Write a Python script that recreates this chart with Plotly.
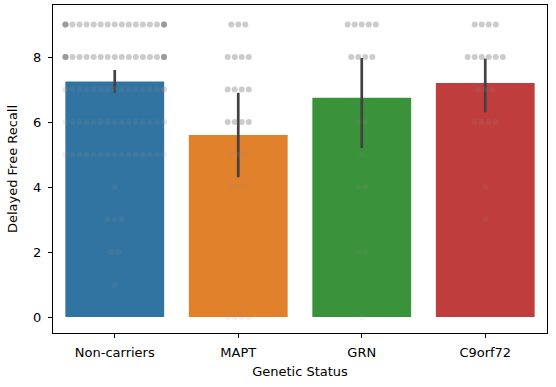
import numpy as np
import plotly.graph_objects as go

# ---- data ----
categories = ["Non-carriers", "MAPT", "GRN", "C9orf72"]
mean_recall = [7.25, 5.6, 6.75, 7.2]
ci_low = [6.9, 4.3, 5.2, 6.3]
ci_high = [7.6, 6.9, 7.97, 7.95]

scores = [0, 1, 2, 3, 4, 5, 6, 7, 8, 9]
noncarrier_counts = [0, 1, 2, 3, 1, 15, 16, 18, 19, 19]
mapt_counts = [4, 0, 0, 0, 3, 3, 4, 4, 4, 3]
grn_counts = [1, 0, 2, 0, 2, 1, 2, 0, 4, 5]
c9_counts = [0, 0, 0, 1, 1, 0, 4, 3, 6, 4]

y_ticks = [0, 2, 4, 6, 8]

bar_colors = ["#3274a1", "#e1812c", "#3a923a", "#c03d3e"]

# ---- swarm layout ----
spacing = 0.057
max_fit = 15
out_x, out_y, in_x, in_y = [], [], [], []
for ci, counts in enumerate([noncarrier_counts, mapt_counts, grn_counts, c9_counts]):
    for s, n in zip(scores, counts):
        k = min(n, max_fit)
        offs = list((np.arange(k) - (k - 1) / 2) * spacing)
        extra = n - k
        edge = (max_fit - 1) / 2 * spacing
        for e in range(extra):
            offs.append(edge if e % 2 == 0 else -edge)
        hidden = s < mean_recall[ci] - 0.08
        for o in offs:
            if hidden:
                in_x.append(ci + o); in_y.append(s)
            else:
                out_x.append(ci + o); out_y.append(s)

fig = go.Figure()

fig.add_trace(go.Bar(
    x=list(range(len(categories))),
    y=mean_recall,
    width=0.8,
    marker=dict(color=bar_colors, line=dict(width=0)),
    error_y=dict(
        type="data", symmetric=False,
        array=[h - m for h, m in zip(ci_high, mean_recall)],
        arrayminus=[m - l for m, l in zip(mean_recall, ci_low)],
        color="#424242", thickness=2.7, width=0,
    ),
    showlegend=False,
))

fig.add_trace(go.Scatter(
    x=in_x, y=in_y, mode="markers",
    marker=dict(size=6, color="rgba(150,150,150,0.13)", line=dict(width=0)),
    showlegend=False, hoverinfo="skip",
))
fig.add_trace(go.Scatter(
    x=out_x, y=out_y, mode="markers",
    marker=dict(size=6, color="rgba(128,128,128,0.4)", line=dict(width=0)),
    showlegend=False, hoverinfo="skip",
))

axis_common = dict(
    showline=True, linecolor="black", linewidth=1, mirror=True,
    ticks="outside", ticklen=4, tickcolor="black", tickwidth=1,
    showgrid=False, zeroline=False, automargin=False,
    tickfont=dict(family="DejaVu Sans", size=13, color="black"),
)

fig.update_xaxes(
    range=[-0.5, 3.5], tickvals=list(range(len(categories))), ticktext=categories,
    ticklabelstandoff=3,
    title=dict(text="Genetic Status", font=dict(family="DejaVu Sans", size=13, color="black"), standoff=8),
    **axis_common,
)
fig.update_yaxes(
    range=[-0.49, 9.6], tickvals=y_ticks, ticktext=[str(t) for t in y_ticks],
    ticklabelstandoff=4,
    title=dict(text="Delayed Free Recall", font=dict(family="DejaVu Sans", size=13, color="black"), standoff=12),
    **axis_common,
)

fig.update_layout(
    width=556, height=387,
    margin=dict(l=53, r=9, t=5, b=54),
    plot_bgcolor="white", paper_bgcolor="white",
    bargap=0.2,
)

fig.write_html("out.html", config={"displayModeBar": False},
               post_script="document.body.style.margin='0';")
